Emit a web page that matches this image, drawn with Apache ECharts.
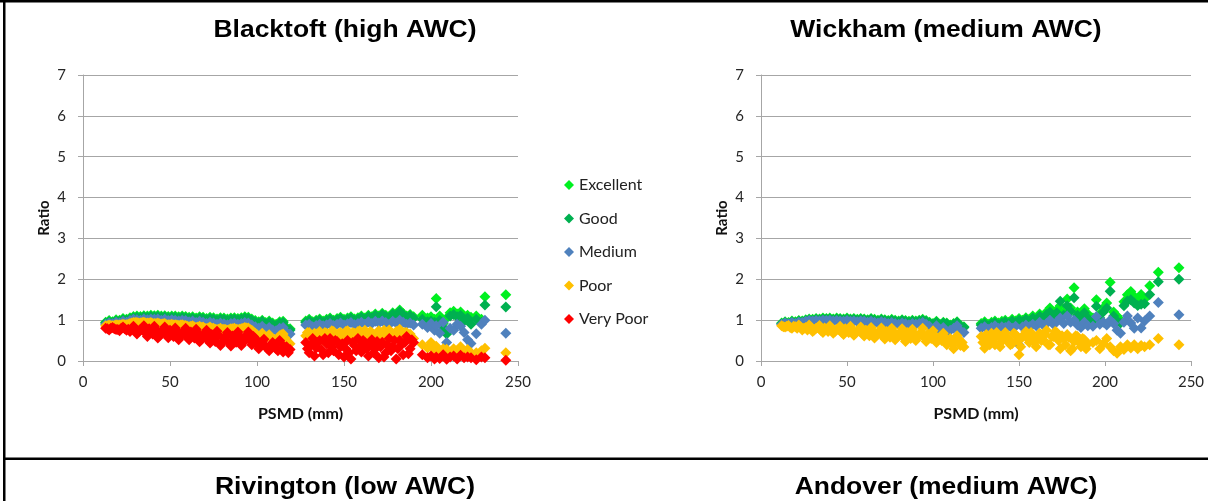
<!DOCTYPE html>
<html>
<head>
<meta charset="utf-8">
<script src="https://cdn.jsdelivr.net/npm/echarts@6/dist/echarts.min.js"></script>
<style>
  html, body { margin: 0; padding: 0; background: #fff; }
  #chart { width: 1208px; height: 501px; }
</style>
</head>
<body>
<div id="chart"></div>
<script>
// Soil moisture deficit (PSMD, mm) against crop ratio, per crop condition class.
const seriesNames = ['Excellent', 'Good', 'Medium', 'Poor', 'Very Poor'];
const seriesColors = ['#00F020', '#00B050', '#4F81BD', '#FFC000', '#FF0000'];
const xTicks = [0, 50, 100, 150, 200, 250];
const yTicks = [0, 1, 2, 3, 4, 5, 6, 7];

// ---- Blacktoft (high AWC) ----
const blacktoftPSMD = [
  13,15,17,19,21,23,25,27,29,31,33,35,37,39,41,43,45,47,49,51,53,55,57,59,61,63,65,67,69,71,73,75,77,79,81,83,85,87,89,91,93,95,97,99,101,103,105,107,109,111,113,115,117,119,
  128,130,132,134,136,138,140,142,144,146,148,150,152,154,156,158,160,162,164,166,168,170,172,174,176,178,180,182,184,186,188,190,
  195,198,200,202,203,205,207,209,211,213,215,217,219,221,223,226,229,231,243
];
const blacktoftExcellent = [
  0.95,0.99,0.96,1.01,1.0,1.04,1.02,1.06,1.09,1.1,1.09,1.11,1.1,1.12,1.11,1.12,1.1,1.11,1.09,1.1,1.1,1.08,1.1,1.09,1.07,1.08,1.05,1.08,1.07,1.04,1.07,1.06,1.03,1.06,1.05,1.03,1.05,1.06,1.04,1.06,1.08,1.07,1.03,0.99,0.96,1.0,0.94,0.98,0.93,0.9,0.96,0.97,0.82,0.79,
  0.98,1.02,0.96,1.0,1.03,0.98,1.02,1.05,1.0,1.04,1.07,1.02,1.05,1.08,1.03,1.06,1.1,1.05,1.12,1.08,1.15,1.1,1.17,1.12,1.09,1.18,1.14,1.25,1.16,1.1,1.14,1.08,
  1.12,1.05,1.08,1.02,1.53,1.1,0.92,1.05,1.18,1.22,1.15,1.2,1.08,1.12,1.07,1.1,1.02,1.57,1.62
];
const blacktoftGood = [
  0.93,0.96,0.94,0.98,0.97,1.01,1.0,1.03,1.06,1.07,1.06,1.08,1.07,1.09,1.08,1.09,1.07,1.08,1.06,1.07,1.07,1.05,1.07,1.06,1.04,1.05,1.02,1.05,1.04,1.01,1.04,1.03,1.0,1.03,1.02,1.0,1.02,1.03,1.01,1.03,1.05,1.04,1.0,0.96,0.93,0.97,0.91,0.95,0.9,0.87,0.93,0.94,0.79,0.76,
  0.95,0.99,0.93,0.97,1.0,0.95,0.99,1.02,0.97,1.01,1.04,0.99,1.02,1.05,1.0,1.03,1.07,1.02,1.09,1.05,1.12,1.07,1.14,1.09,1.06,1.15,1.11,1.21,1.13,1.07,1.11,1.05,
  1.02,0.96,0.98,0.95,1.33,1.0,0.82,0.66,1.1,1.14,1.08,1.12,0.98,1.05,0.9,1.02,0.95,1.37,1.32
];
const blacktoftMedium = [
  0.9,0.93,0.91,0.95,0.93,0.97,0.95,0.99,1.02,1.01,1.0,1.03,1.01,1.03,1.02,1.03,1.0,1.02,0.99,1.01,1.0,0.98,1.0,0.99,0.96,0.98,0.94,0.97,0.95,0.92,0.95,0.93,0.9,0.93,0.91,0.89,0.92,0.93,0.9,0.92,0.94,0.93,0.88,0.84,0.8,0.85,0.78,0.82,0.76,0.74,0.8,0.82,0.7,0.66,
  0.88,0.9,0.84,0.87,0.9,0.86,0.89,0.92,0.87,0.9,0.93,0.88,0.91,0.94,0.89,0.92,0.95,0.9,0.96,0.92,0.97,0.93,0.98,0.94,0.9,0.97,0.93,1.0,0.95,0.9,0.93,0.88,
  0.9,0.82,0.92,0.75,0.86,0.68,0.95,0.45,0.8,0.75,0.9,0.85,0.7,0.52,0.43,0.67,0.9,1.0,0.68
];
const blacktoftPoor = [
  0.86,0.88,0.86,0.89,0.88,0.9,0.89,0.92,0.94,0.94,0.93,0.95,0.93,0.94,0.92,0.93,0.9,0.92,0.89,0.9,0.89,0.87,0.89,0.87,0.84,0.86,0.82,0.85,0.83,0.79,0.83,0.8,0.77,0.8,0.78,0.75,0.79,0.8,0.77,0.79,0.82,0.81,0.75,0.68,0.6,0.68,0.57,0.64,0.54,0.51,0.62,0.66,0.5,0.42,
  0.62,0.7,0.55,0.66,0.72,0.5,0.68,0.63,0.72,0.55,0.7,0.66,0.74,0.58,0.68,0.72,0.6,0.75,0.66,0.7,0.56,0.74,0.68,0.62,0.76,0.65,0.72,0.78,0.6,0.7,0.66,0.55,
  0.4,0.32,0.45,0.28,0.36,0.22,0.3,0.29,0.22,0.3,0.25,0.35,0.2,0.28,0.2,0.2,0.25,0.31,0.2
];
const blacktoftVeryPoor = [
  0.8,0.76,0.82,0.77,0.74,0.83,0.75,0.72,0.85,0.66,0.77,0.86,0.6,0.74,0.85,0.56,0.7,0.83,0.57,0.7,0.81,0.52,0.68,0.8,0.52,0.66,0.78,0.47,0.62,0.75,0.44,0.6,0.73,0.38,0.55,0.7,0.37,0.54,0.71,0.38,0.56,0.71,0.4,0.55,0.3,0.48,0.36,0.25,0.45,0.3,0.5,0.22,0.35,0.28,
  0.45,0.2,0.55,0.32,0.5,0.15,0.42,0.55,0.25,0.48,0.35,0.1,0.5,0.05,0.38,0.55,0.22,0.45,0.12,0.52,0.3,0.08,0.46,0.2,0.55,0.35,0.05,0.5,0.15,0.6,0.3,0.45,
  0.15,0.08,0.12,0.05,0.1,0.06,0.15,0.04,0.1,0.12,0.05,0.14,0.08,0.1,0.08,0.03,0.1,0.08,0.02
];
// Further Blacktoft days recorded for the two lowest classes only
const blacktoftExtraPSMD = [
  14,16,18,20,22,24,26,28,30,32,34,36,38,40,42,44,46,48,50,52,54,56,58,60,62,64,66,68,70,72,74,76,78,80,82,84,86,88,90,92,94,96,98,100,102,104,106,108,110,112,114,116,118,
  129,131,133,135,137,139,141,143,145,147,149,151,153,155,157,159,161,163,165,167,169,171,173,175,177,179,181,183,185,187,189
];
const blacktoftExtraPoor = [
  0.86,0.87,0.87,0.88,0.89,0.89,0.9,0.93,0.94,0.93,0.94,0.93,0.93,0.92,0.92,0.91,0.91,0.89,0.89,0.88,0.88,0.88,0.87,0.85,0.85,0.83,0.83,0.82,0.8,0.81,0.8,0.78,0.78,0.77,0.77,0.77,0.79,0.78,0.78,0.8,0.81,0.77,0.71,0.64,0.63,0.6,0.6,0.58,0.52,0.56,0.64,0.57,0.45,
  0.7,0.6,0.68,0.58,0.65,0.7,0.6,0.74,0.62,0.68,0.6,0.72,0.65,0.7,0.62,0.74,0.68,0.6,0.72,0.64,0.7,0.65,0.75,0.58,0.7,0.6,0.72,0.66,0.7,0.62,0.58
];
const blacktoftExtraVeryPoor = [
  0.79,0.8,0.79,0.77,0.8,0.79,0.78,0.79,0.77,0.72,0.81,0.68,0.79,0.66,0.77,0.62,0.76,0.64,0.75,0.6,0.73,0.6,0.73,0.58,0.71,0.56,0.69,0.52,0.67,0.5,0.65,0.48,0.63,0.45,0.61,0.44,0.61,0.46,0.62,0.45,0.63,0.5,0.6,0.4,0.42,0.53,0.3,0.38,0.4,0.25,0.42,0.3,0.2,
  0.3,0.4,0.12,0.45,0.28,0.55,0.2,0.35,0.5,0.15,0.42,0.3,0.2,0.45,0.25,0.35,0.5,0.3,0.4,0.2,0.48,0.35,0.1,0.4,0.25,0.5,0.3,0.4,0.45,0.18,0.52
];

// ---- Wickham (medium AWC) ----
const wickhamPSMD = [
  12,14,16,18,20,22,24,26,28,30,32,34,36,38,40,42,44,46,48,50,52,54,56,58,60,62,64,66,68,70,72,74,76,78,80,82,84,86,88,90,92,94,96,98,100,102,104,106,108,110,112,114,116,118,
  128,130,132,134,136,138,140,142,144,146,148,150,152,154,156,158,160,162,164,166,168,170,172,174,176,178,180,182,184,186,188,190,
  193,195,197,199,201,203,205,207,209,211,213,215,217,219,221,223,226,231,243
];
const wickhamExcellent = [
  0.93,0.96,0.94,0.98,0.96,0.99,0.98,1.01,1.03,1.02,1.04,1.03,1.05,1.04,1.05,1.03,1.05,1.04,1.03,1.05,1.03,1.04,1.02,1.04,1.03,1.01,1.04,1.02,1.0,1.03,1.01,0.99,1.02,1.0,0.98,1.01,0.99,0.97,1.0,0.98,1.0,1.02,0.99,0.95,0.92,0.97,0.9,0.95,0.93,0.88,0.92,0.96,0.87,0.84,
  0.92,0.96,0.9,0.95,0.98,0.93,0.97,1.0,0.95,1.02,0.98,1.04,1.0,1.06,1.02,1.1,1.05,1.15,1.08,1.2,1.3,1.12,1.25,1.35,1.18,1.52,1.3,1.79,1.2,1.1,1.28,1.15,
  1.05,1.5,1.15,1.3,1.42,1.93,1.2,1.1,1.0,1.45,1.62,1.7,1.58,1.48,1.63,1.52,1.84,2.17,2.28
];
const wickhamGood = [
  0.91,0.94,0.92,0.96,0.94,0.97,0.96,0.99,1.01,1.0,1.02,1.01,1.03,1.02,1.03,1.01,1.03,1.02,1.01,1.03,1.01,1.02,1.0,1.02,1.01,0.99,1.02,1.0,0.98,1.01,0.99,0.97,1.0,0.98,0.96,0.99,0.97,0.95,0.98,0.96,0.98,1.0,0.97,0.93,0.9,0.95,0.88,0.93,0.91,0.86,0.9,0.94,0.85,0.82,
  0.88,0.92,0.86,0.91,0.94,0.89,0.93,0.96,0.91,0.98,0.94,1.0,0.96,1.02,0.97,1.05,1.0,1.1,1.03,1.14,1.2,1.06,1.18,1.46,1.12,1.35,1.22,1.55,1.12,1.02,1.18,1.05,
  0.98,1.34,1.05,1.2,1.3,1.71,1.1,0.98,0.93,1.35,1.47,1.5,1.42,1.36,1.39,1.4,1.63,1.94,2.0
];
const wickhamMedium = [
  0.9,0.93,0.91,0.94,0.92,0.95,0.94,0.97,0.99,0.98,0.99,0.98,1.0,0.99,1.0,0.98,0.99,0.98,0.97,0.99,0.97,0.98,0.96,0.98,0.97,0.95,0.97,0.95,0.93,0.96,0.94,0.92,0.94,0.92,0.9,0.93,0.91,0.89,0.92,0.9,0.92,0.94,0.9,0.85,0.78,0.86,0.72,0.82,0.68,0.75,0.8,0.86,0.74,0.7,
  0.8,0.84,0.78,0.82,0.86,0.8,0.84,0.82,0.86,0.8,0.85,0.4,0.83,0.88,0.84,0.9,0.86,0.95,0.88,0.92,1.0,0.9,0.96,1.05,0.92,1.1,0.95,1.0,0.88,0.82,0.95,0.86,
  0.85,1.09,0.9,0.95,0.88,1.0,0.92,0.75,0.68,0.95,1.1,0.93,0.8,1.05,0.81,0.98,1.1,1.43,1.13
];
const wickhamPoor = [
  0.86,0.83,0.87,0.8,0.84,0.88,0.76,0.82,0.88,0.72,0.8,0.87,0.7,0.78,0.86,0.68,0.77,0.85,0.65,0.75,0.85,0.63,0.73,0.83,0.61,0.72,0.82,0.56,0.68,0.81,0.54,0.66,0.8,0.52,0.64,0.79,0.48,0.62,0.78,0.5,0.64,0.8,0.48,0.6,0.74,0.45,0.58,0.68,0.4,0.55,0.3,0.62,0.38,0.34,
  0.6,0.31,0.55,0.68,0.4,0.62,0.48,0.7,0.55,0.42,0.65,0.15,0.58,0.72,0.45,0.62,0.35,0.68,0.52,0.75,0.4,0.6,0.7,0.3,0.55,0.65,0.25,0.48,0.6,0.35,0.52,0.42,
  0.45,0.5,0.3,0.42,0.55,0.35,0.25,0.19,0.35,0.28,0.4,0.32,0.4,0.3,0.38,0.35,0.4,0.55,0.4
];
// Further Wickham days recorded for the Poor class
const wickhamExtraPSMD = [
  13,15,17,19,21,23,25,27,29,31,33,35,37,39,41,43,45,47,49,51,53,55,57,59,61,63,65,67,69,71,73,75,77,79,81,83,85,87,89,91,93,95,97,99,101,103,105,107,109,111,113,115,117,
  129,131,133,135,137,139,141,143,145,147,149,151,153,155,157,159,161,163,165,167,169,171,173,175,177,179,181,183,185,187,189
];
const wickhamExtraPoor = [
  0.84,0.85,0.82,0.85,0.8,0.84,0.8,0.76,0.83,0.76,0.82,0.74,0.81,0.72,0.8,0.72,0.78,0.7,0.79,0.7,0.77,0.68,0.77,0.66,0.75,0.62,0.74,0.62,0.73,0.6,0.72,0.58,0.72,0.58,0.7,0.56,0.7,0.55,0.68,0.58,0.7,0.57,0.66,0.55,0.63,0.52,0.5,0.58,0.45,0.42,0.5,0.53,0.45,
  0.45,0.65,0.4,0.52,0.7,0.35,0.62,0.5,0.4,0.68,0.5,0.35,0.65,0.55,0.7,0.45,0.6,0.5,0.65,0.4,0.6,0.72,0.5,0.62,0.4,0.58,0.3,0.62,0.45,0.55,0.3
];

const pairs = (xs, ys) => xs.map((x, i) => [x, ys[i]]);

const AXIS_GREY = '#A6A6A6';
const TICK_FONT = 'Lato, "Open Sans", sans-serif';

function makeXAxis(gridIndex) {
  return {
    gridIndex, type: 'value', min: xTicks[0], max: xTicks[xTicks.length - 1], interval: 50,
    name: 'PSMD (mm)', nameLocation: 'middle', nameGap: 45,
    nameTextStyle: { fontFamily: TICK_FONT, fontWeight: 'bold', fontSize: 16, color: '#111' },
    axisLine: { show: true, lineStyle: { color: AXIS_GREY, width: 1 } },
    axisTick: { show: true, length: 5, lineStyle: { color: AXIS_GREY } },
    axisLabel: { margin: 14, fontFamily: TICK_FONT, fontSize: 15, color: '#262626' },
    splitLine: { show: false }
  };
}
function makeYAxis(gridIndex) {
  return {
    gridIndex, type: 'value', min: yTicks[0], max: yTicks[yTicks.length - 1], interval: 1,
    name: 'Ratio', nameLocation: 'middle', nameGap: 31, nameRotate: 90,
    nameTextStyle: { fontFamily: TICK_FONT, fontWeight: 'bold', fontSize: 15, color: '#111' },
    axisLine: { show: true, lineStyle: { color: AXIS_GREY, width: 1 } },
    axisTick: { show: true, length: 5, lineStyle: { color: AXIS_GREY } },
    axisLabel: { margin: 17, fontFamily: TICK_FONT, fontSize: 15, color: '#262626' },
    splitLine: { show: true, lineStyle: { color: AXIS_GREY, width: 1 } }
  };
}
function scatter(name, idx, data, axisIndex) {
  return {
    name, type: 'scatter', xAxisIndex: axisIndex, yAxisIndex: axisIndex,
    symbol: 'diamond', symbolSize: 11, data,
    itemStyle: { color: seriesColors[idx], opacity: 1 },
    emphasis: { disabled: true }, animation: false
  };
}

const blacktoftData = [
  pairs(blacktoftPSMD, blacktoftExcellent),
  pairs(blacktoftPSMD, blacktoftGood),
  pairs(blacktoftPSMD, blacktoftMedium),
  pairs(blacktoftPSMD, blacktoftPoor).concat(pairs(blacktoftExtraPSMD, blacktoftExtraPoor)),
  pairs(blacktoftPSMD, blacktoftVeryPoor).concat(pairs(blacktoftExtraPSMD, blacktoftExtraVeryPoor))
];
const wickhamData = [
  pairs(wickhamPSMD, wickhamExcellent),
  pairs(wickhamPSMD, wickhamGood),
  pairs(wickhamPSMD, wickhamMedium),
  pairs(wickhamPSMD, wickhamPoor).concat(pairs(wickhamExtraPSMD, wickhamExtraPoor))
];

const series = [];
blacktoftData.forEach((d, i) => series.push(scatter(seriesNames[i], i, d, 0)));
wickhamData.forEach((d, i) => series.push(scatter(seriesNames[i], i, d, 1)));

const TITLE_FONT = '"Liberation Sans", Arial, sans-serif';
function titleText(text, cx, cy) {
  return {
    type: 'text', x: cx, y: cy, scaleX: 1.15, silent: true,
    style: { text, font: 'bold 23px ' + TITLE_FONT, fill: '#000', align: 'center', verticalAlign: 'middle' }
  };
}

const chart = echarts.init(document.getElementById('chart'), null, { renderer: 'canvas' });
chart.setOption({
  animation: false,
  backgroundColor: '#fff',
  grid: [
    { left: 83, top: 75, width: 435, height: 286 },
    { left: 761, top: 75, width: 430, height: 286 }
  ],
  xAxis: [makeXAxis(0), makeXAxis(1)],
  yAxis: [makeYAxis(0), makeYAxis(1)],
  legend: {
    orient: 'vertical', left: 559, top: 172,
    data: seriesNames, icon: 'diamond', itemWidth: 10, itemHeight: 10, itemGap: 17.5,
    textStyle: { fontFamily: TICK_FONT, fontSize: 16, color: '#222' },
    selectedMode: false
  },
  graphic: [
    { type: 'rect', shape: { x: 0, y: 0, width: 1208, height: 2.5 }, style: { fill: '#000' }, silent: true },
    { type: 'rect', shape: { x: 3, y: 0, width: 2.5, height: 501 }, style: { fill: '#000' }, silent: true },
    { type: 'rect', shape: { x: 3, y: 457.5, width: 1205, height: 2.5 }, style: { fill: '#000' }, silent: true },
    titleText('Blacktoft (high AWC)', 345, 31),
    titleText('Wickham (medium AWC)', 946, 31),
    titleText('Rivington (low AWC)', 345, 488),
    titleText('Andover (medium AWC)', 946, 488)
  ],
  series
});
</script>
</body>
</html>
